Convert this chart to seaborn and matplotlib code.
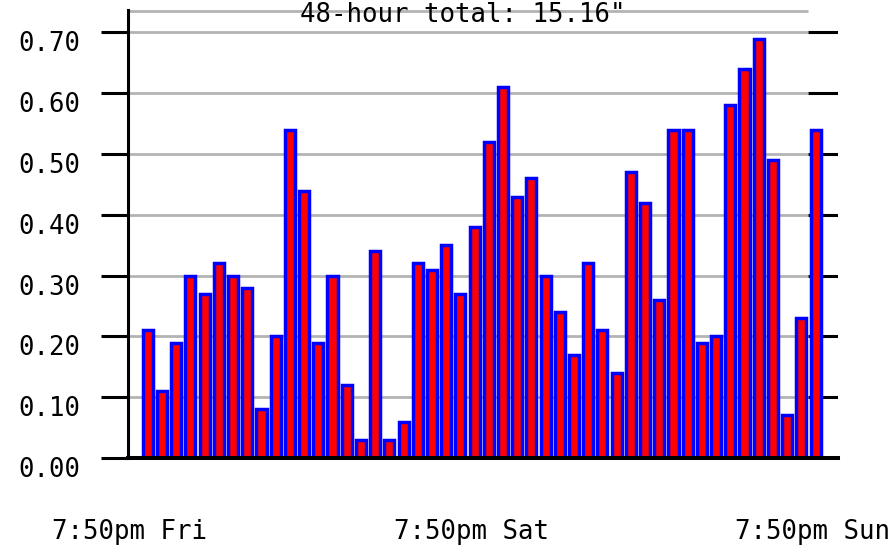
import matplotlib
matplotlib.use("Agg")
import matplotlib.pyplot as plt
import matplotlib.transforms as mtransforms
import seaborn as sns
import pandas as pd

# ---- data ----
hours = list(range(48))
rain = [0.21, 0.11, 0.19, 0.30, 0.27, 0.32, 0.30, 0.28, 0.08, 0.20,
        0.54, 0.44, 0.19, 0.30, 0.12, 0.03, 0.34, 0.03, 0.06, 0.32,
        0.31, 0.35, 0.27, 0.38, 0.52, 0.61, 0.43, 0.46, 0.30, 0.24,
        0.17, 0.32, 0.21, 0.14, 0.47, 0.42, 0.26, 0.54, 0.54, 0.19,
        0.20, 0.58, 0.64, 0.69, 0.49, 0.07, 0.23, 0.54]
ytick_vals = [0.0, 0.1, 0.2, 0.3, 0.4, 0.5, 0.6, 0.7]
ytick_labels = ["0.00", "0.10", "0.20", "0.30", "0.40", "0.50", "0.60", "0.70"]
xtick_pos = [-1.27, 22.77, 46.8]
xtick_labels = ["7:50pm Fri", "7:50pm Sat", "7:50pm Sun"]
title = '48-hour total: 15.16"'

df = pd.DataFrame({"hour": hours, "rain": rain})

sns.set_style("white")
plt.rcParams["font.family"] = ["DejaVu Sans Mono", "DejaVu Sans"]
plt.rcParams["text.color"] = "black"
plt.rcParams["xtick.labelcolor"] = "black"
plt.rcParams["ytick.labelcolor"] = "black"

W, H = 895, 549
fig = plt.figure(figsize=(W / 100, H / 100), dpi=100)
ax = fig.add_axes([128.5 / W, 91 / H, (838 - 128.5) / W, (458 - 10) / H])

XMIN, XMAX = -1.36, 48.58
GRID_END = 46.5
YMAX = 0.737

# gridlines (gray) and right-hand black tick stubs
ax.hlines(ytick_vals[1:] + [0.735], XMIN, GRID_END, color="#b3b3b3", lw=2.0, zorder=0.5)
ax.hlines(ytick_vals[1:], GRID_END, XMAX, color="black", lw=2.2, zorder=0.5)

sns.barplot(data=df, x="hour", y="rain", color="red", saturation=1,
            edgecolor="blue", linewidth=2.5, width=0.71, ax=ax, zorder=1)

ax.set_xlim(XMIN, XMAX)
ax.set_ylim(0, YMAX)

ax.set_yticks(ytick_vals)
ax.set_yticklabels(ytick_labels)
ax.set_xticks(xtick_pos)
ax.set_xticklabels(xtick_labels)
ax.set_xlabel("")
ax.set_ylabel("")

ax.tick_params(axis="y", left=True, length=19.5, width=2.2, color="black",
               pad=15, labelsize=18.5, direction="out", labelcolor="black")
ax.tick_params(axis="x", bottom=False, length=0, pad=44, labelsize=18.5,
               labelcolor="black")

off = mtransforms.ScaledTranslation(0, -9 / 100, fig.dpi_scale_trans)
for lab in ax.get_yticklabels():
    lab.set_transform(lab.get_transform() + off)

for s in ["top", "right"]:
    ax.spines[s].set_visible(False)
ax.spines["left"].set_linewidth(2.2)
ax.spines["left"].set_color("black")
ax.spines["bottom"].set_linewidth(2.9)
ax.spines["bottom"].set_color("black")
ax.spines["bottom"].set_zorder(3)

fig.text(463 / W, 1 - 15 / H, title, ha="center", va="center", fontsize=18.5, color="black")

fig.savefig("out.png", dpi=100)
